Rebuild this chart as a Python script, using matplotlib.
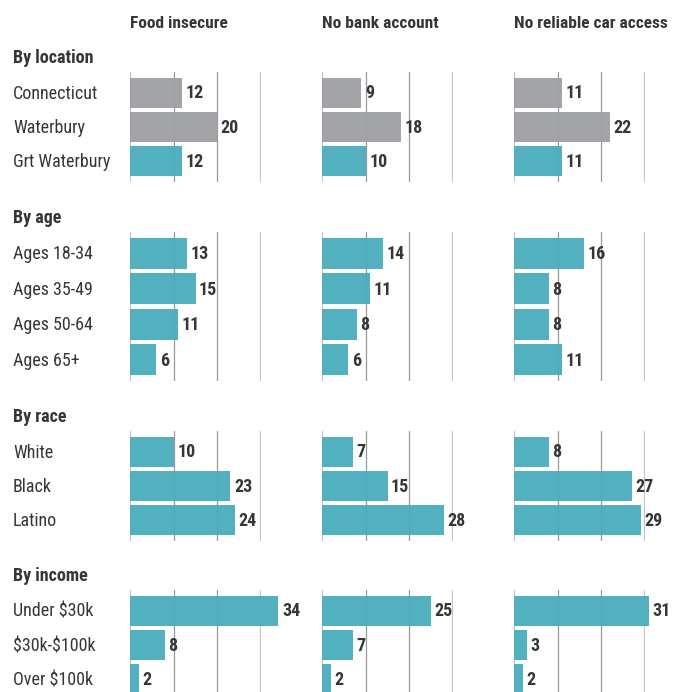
import matplotlib
matplotlib.use('Agg')
import matplotlib.pyplot as plt
from matplotlib.transforms import blended_transform_factory

plt.rcParams['text.parse_math'] = False
plt.rcParams['font.family'] = ['Roboto Condensed', 'DejaVu Sans']

metrics = ['Food insecure', 'No bank account', 'No reliable car access']
groups = ['By location', 'By age', 'By race', 'By income']

location_labels = ['Connecticut', 'Waterbury', 'Grt Waterbury']
age_labels = ['Ages 18-34', 'Ages 35-49', 'Ages 50-64', 'Ages 65+']
race_labels = ['White', 'Black', 'Latino']
income_labels = ['Under $30k', '$30k-$100k', 'Over $100k']

food_location = [12, 20, 12]
food_age = [13, 15, 11, 6]
food_race = [10, 23, 24]
food_income = [34, 8, 2]

bank_location = [9, 18, 10]
bank_age = [14, 11, 8, 6]
bank_race = [7, 15, 28]
bank_income = [25, 7, 2]

car_location = [11, 22, 11]
car_age = [16, 8, 8, 11]
car_race = [8, 27, 29]
car_income = [31, 3, 2]

grid_ticks = [0, 10, 20, 30]

TEAL = '#4aacbc'
GREY = '#9e9fa3'
TEXT = '#363636'

W, H = 683, 692
fig = plt.figure(figsize=(W / 100, H / 100), dpi=100)

labels = [location_labels, age_labels, race_labels, income_labels]
values = {
    0: [food_location, food_age, food_race, food_income],
    1: [bank_location, bank_age, bank_race, bank_income],
    2: [car_location, car_age, car_race, car_income],
}
# first two location rows are the state / city comparison (grey)
grey_rows = {0: [0, 1]}

col_left = [130, 322, 514]
col_width = 131
group_top = [72, 232, 431, 590]
group_bottom = [182, 381, 541, 700]
pad = 0.6

for j, m in enumerate(metrics):
    fig.text(col_left[j] / W, 1 - 23 / H, m, fontsize=12.5, fontweight='bold',
             color=TEXT, ha='left', va='center')

for g, gname in enumerate(groups):
    n = len(labels[g])
    top, bot = group_top[g], group_bottom[g]
    fig.text(13 / W, 1 - (top - 14) / H, gname, fontsize=13, fontweight='bold',
             color=TEXT, ha='left', va='center')
    for j in range(3):
        ax = fig.add_axes([col_left[j] / W, 1 - bot / H, col_width / W, (bot - top) / H])
        ax.set_xlim(0, 30)
        ax.set_ylim(n - 1 + pad, -pad)
        ax.axis('off')
        for t in grid_ticks:
            if t in (0, 30):
                ax.axvline(t, color='#c6c6c6', lw=1.6, zorder=1)
            else:
                ax.axvline(t, color='#9a9a9a', lw=0.9, zorder=1)
        vals = values[j][g]
        cols = [GREY if i in grey_rows.get(g, []) else TEAL for i in range(n)]
        ax.barh(range(n), vals, height=0.87, color=cols, alpha=0.95,
                zorder=2, clip_on=False)
        for i, v in enumerate(vals):
            ax.annotate(str(v), (v, i), xytext=(2.5, -0.6), textcoords='offset points',
                        fontsize=13, fontweight='bold', color=TEXT,
                        ha='left', va='center', annotation_clip=False)
        if j == 0:
            tr = blended_transform_factory(fig.transFigure, ax.transData)
            for i, lab in enumerate(labels[g]):
                ax.text(13 / W, i + 0.03, lab, transform=tr, fontsize=13,
                        color=TEXT, ha='left', va='center')

fig.savefig('out.png', dpi=100)
